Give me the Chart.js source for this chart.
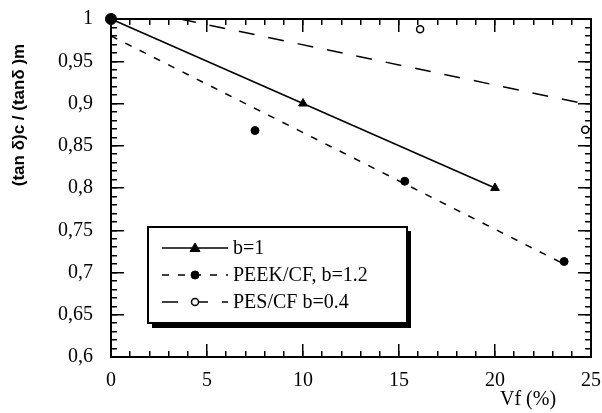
<!DOCTYPE html>
<html>
<head>
<meta charset="utf-8">
<script src="https://cdn.jsdelivr.net/npm/chart.js@4"></script>
<style>
html,body{margin:0;padding:0;background:#fff;}
#wrap{width:602px;height:413px;position:relative;}
</style>
</head>
<body>
<div id="wrap"><canvas id="c" width="602" height="413"></canvas></div>
<script>
// ---- data ----
const xTickValues = [0, 5, 10, 15, 20, 25];
const xTickLabels = ['0', '5', '10', '15', '20', '25'];
const yTickValues = [0.6, 0.65, 0.7, 0.75, 0.8, 0.85, 0.9, 0.95, 1];
const yTickLabels = ['0,6', '0,65', '0,7', '0,75', '0,8', '0,85', '0,9', '0,95', '1'];

const b1X = [0, 10, 20];
const b1Y = [1, 0.9, 0.8];

const peekX = [0, 7.5, 15.3, 23.6];
const peekY = [1, 0.868, 0.808, 0.713];
const peekFitX = [0, 23.6];
const peekFitY = [0.98, 0.71];

const pesX = [0, 16.1, 24.7];
const pesY = [1, 0.988, 0.869];
const pesFitX = [3.6, 25];
const pesFitY = [1, 0.898];

const legendLabels = ['b=1', 'PEEK/CF, b=1.2', 'PES/CF b=0.4'];
const xTitle = 'Vf (%)';
const yTitle = '(tan \u03b4)c / (tan\u03b4 )m';

// minor tick positions (axis decoration)
const xMinorTicks = Array.from({length: 26}, (_, i) => i);
const yMinorTicks = Array.from({length: 41}, (_, i) => (60 + i) / 100);

const pts = (xs, ys) => xs.map((x, i) => ({x: x, y: ys[i]}));

const SERIF = '"Liberation Serif", "Times New Roman", serif';
const SANS = '"Liberation Sans", Arial, sans-serif';

function zeroPad(s) { s.paddingLeft = 0; s.paddingRight = 0; s.paddingTop = 0; s.paddingBottom = 0; }

// inward tick-only axis (no labels), zero thickness so the plot area is unchanged
function tickAxis(axis, position, values, len, withBorder, weight) {
  return {
    type: 'linear', axis: axis, position: position, weight: weight,
    min: axis === 'x' ? 0 : 0.6, max: axis === 'x' ? 25 : 1,
    afterFit(s) { if (axis === 'x') s.height = 0; else s.width = 0; zeroPad(s); },
    afterBuildTicks(s) { s.ticks = values.map(v => ({value: v})); },
    grid: { display: true, drawOnChartArea: false, drawTicks: true, tickLength: -len,
            tickWidth: 1.5, tickColor: '#000', lineWidth: 1.5, color: '#000' },
    border: withBorder ? { display: true, color: '#000', width: 2 } : { display: false },
    ticks: { display: false }
  };
}

const legendPlugin = {
  id: 'legendPlugin',
  afterDraw(chart) {
    const ctx = chart.ctx;
    ctx.save();
    ctx.setLineDash([]);
    ctx.fillStyle = '#000';
    ctx.strokeStyle = '#000';
    ctx.font = '20px ' + SERIF;
    ctx.textAlign = 'center';
    ctx.textBaseline = 'middle';
    ctx.fillText(xTitle, 528, 400);
    ctx.save();
    ctx.translate(19, 115);
    ctx.rotate(-Math.PI / 2);
    ctx.font = 'bold 17px ' + SANS;
    ctx.fillText(yTitle, 0, 0);
    ctx.restore();

    const L = 148, T = 227, R = 407, B = 323;
    ctx.fillStyle = '#000';
    ctx.fillRect(L + 4, T + 4, R - L, B - T + 1);
    ctx.fillStyle = '#fff';
    ctx.fillRect(L, T, R - L, B - T);
    ctx.lineWidth = 2;
    ctx.strokeStyle = '#000';
    ctx.strokeRect(L, T, R - L, B - T);

    const rows = [248, 275, 302];
    const samples = [
      {ds: chart.data.datasets[0], line: chart.data.datasets[0], r: 5},
      {ds: chart.data.datasets[1], line: chart.data.datasets[2], r: 4},
      {ds: chart.data.datasets[3], line: chart.data.datasets[4], r: 3.5}
    ];
    samples.forEach((s, i) => {
      const y = rows[i];
      ctx.save();
      ctx.strokeStyle = '#000';
      ctx.lineWidth = 1.5;
      ctx.setLineDash(s.line.borderDash || []);
      ctx.beginPath();
      ctx.moveTo(162, y); ctx.lineTo(228, y);
      ctx.stroke();
      ctx.restore();
      ctx.save();
      ctx.setLineDash([]);
      ctx.fillStyle = s.ds.pointBackgroundColor;
      ctx.strokeStyle = '#000';
      ctx.lineWidth = s.ds.pointBorderWidth || 1;
      ctx.beginPath();
      if (s.ds.pointStyle === 'triangle') {
        ctx.moveTo(195, y - s.r); ctx.lineTo(195 + s.r, y + s.r * 0.7); ctx.lineTo(195 - s.r, y + s.r * 0.7); ctx.closePath();
      } else {
        ctx.arc(195, y, s.r, 0, Math.PI * 2);
      }
      ctx.fill(); ctx.stroke();
      ctx.restore();
      ctx.fillStyle = '#000';
      ctx.font = '20px ' + SERIF;
      ctx.textAlign = 'left';
      ctx.textBaseline = 'middle';
      ctx.fillText(legendLabels[i], 233, y + 1);
    });
    ctx.restore();
  }
};

new Chart(document.getElementById('c'), {
  type: 'scatter',
  data: {
    datasets: [
      { label: legendLabels[0], data: pts(b1X, b1Y), showLine: true, xAxisID: 'x', yAxisID: 'y',
        borderColor: '#000', borderWidth: 1.5, pointStyle: 'triangle', pointRadius: 5,
        pointBackgroundColor: '#000', pointBorderColor: '#000', pointBorderWidth: 1, clip: false },
      { label: legendLabels[1], data: pts(peekX, peekY), showLine: false, xAxisID: 'x', yAxisID: 'y',
        borderColor: '#000', pointStyle: 'circle', pointRadius: (c) => c.dataIndex === 0 ? 5.5 : 4,
        pointBackgroundColor: '#000', pointBorderColor: '#000', pointBorderWidth: 1, clip: false },
      { label: 'PEEK fit', data: pts(peekFitX, peekFitY), showLine: true, xAxisID: 'x', yAxisID: 'y',
        borderColor: '#000', borderWidth: 1.5, borderDash: [7, 9], pointRadius: 0 },
      { label: legendLabels[2], data: pts(pesX, pesY), showLine: false, xAxisID: 'x', yAxisID: 'y',
        borderColor: '#000', pointStyle: 'circle', pointRadius: 3.5,
        pointBackgroundColor: '#fff', pointBorderColor: '#000', pointBorderWidth: 1.5, clip: false },
      { label: 'PES fit', data: pts(pesFitX, pesFitY), showLine: true, xAxisID: 'x', yAxisID: 'y',
        borderColor: '#000', borderWidth: 1.5, borderDash: [16, 14], pointRadius: 0 }
    ]
  },
  options: {
    responsive: false,
    animation: false,
    devicePixelRatio: 1,
    layout: { padding: { top: 19, right: 11, left: 0, bottom: 0 } },
    plugins: { legend: { display: false }, tooltip: { enabled: false } },
    scales: {
      x: {
        type: 'linear', axis: 'x', position: 'bottom', weight: 0, min: 0, max: 25,
        afterFit(s) { s.height = 56; s.paddingLeft = 0; s.paddingRight = 0; },
        afterBuildTicks(s) { s.ticks = xTickValues.map(v => ({value: v})); },
        grid: { display: true, drawOnChartArea: false, drawTicks: true, tickLength: -13,
                tickWidth: 1.5, tickColor: '#000', lineWidth: 1.5, color: '#000' },
        border: { display: true, color: '#000', width: 2 },
        ticks: {
          padding: 25, color: '#000', font: { family: SERIF, size: 20 },
          maxRotation: 0, autoSkip: false,
          callback: (v) => xTickLabels[xTickValues.indexOf(v)]
        }
      },
      y: {
        type: 'linear', axis: 'y', position: 'left', weight: 0, min: 0.6, max: 1,
        afterFit(s) { s.width = 111; s.paddingTop = 0; s.paddingBottom = 0; },
        afterBuildTicks(s) { s.ticks = yTickValues.map(v => ({value: v})); },
        grid: { display: true, drawOnChartArea: false, drawTicks: true, tickLength: -13,
                tickWidth: 1.5, tickColor: '#000', lineWidth: 1.5, color: '#000' },
        border: { display: true, color: '#000', width: 2 },
        ticks: {
          padding: 31, color: '#000', font: { family: SERIF, size: 20 }, autoSkip: false,
          callback: (v) => {
            const i = yTickValues.findIndex(t => Math.abs(t - v) < 1e-9);
            return i >= 0 ? yTickLabels[i] : '';
          }
        }
      },
      xMinor: tickAxis('x', 'bottom', xMinorTicks, 6, false, -1),
      yMinor: tickAxis('y', 'left', yMinorTicks, 6, false, -1),
      xTop: tickAxis('x', 'top', xTickValues, 13, true, 0),
      xTopMinor: tickAxis('x', 'top', xMinorTicks, 6, false, -1),
      yRight: tickAxis('y', 'right', yTickValues, 13, true, 0),
      yRightMinor: tickAxis('y', 'right', yMinorTicks, 6, false, -1)
    }
  },
  plugins: [legendPlugin]
});
</script>
</body>
</html>
